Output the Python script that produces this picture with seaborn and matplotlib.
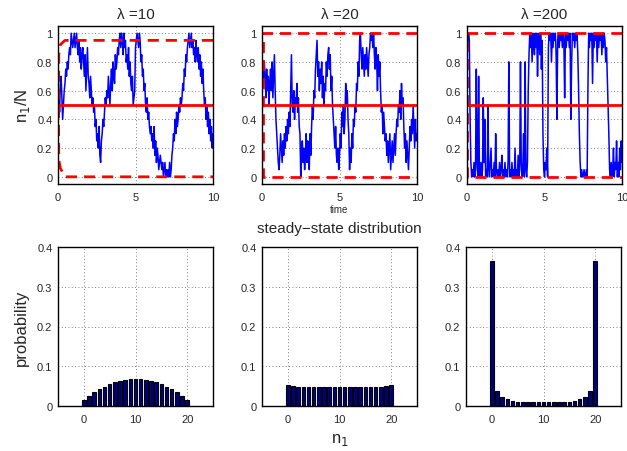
import numpy as np
import pandas as pd
import matplotlib
matplotlib.use("Agg")
import matplotlib.pyplot as plt
import seaborn as sns

# ---------------- data ----------------
lambdas = ["10", "20", "200"]

traj_lam10 = [
    0.5,0.6,0.45,0.65,0.7,0.55,0.4,0.5,0.6,0.65,0.75,0.7,0.8,0.75,0.85,0.9,0.85,1.0,0.95,0.9,
    0.95,1.0,0.9,0.95,1.0,0.9,0.85,0.95,0.8,0.9,0.75,0.85,0.9,0.8,0.7,0.85,0.6,0.75,0.9,0.7,
    0.65,0.55,0.7,0.6,0.5,0.55,0.45,0.5,0.35,0.4,0.25,0.3,0.2,0.35,0.15,0.1,0.25,0.3,0.4,0.35,
    0.45,0.55,0.5,0.6,0.55,0.7,0.6,0.5,0.65,0.75,0.6,0.8,0.7,0.65,0.85,0.75,0.8,0.9,0.85,0.95,
    1.0,0.9,1.0,0.95,0.85,1.0,0.9,0.95,0.8,0.85,0.75,0.9,0.7,0.8,0.65,0.6,0.7,0.5,0.55,0.6,
    0.9,0.95,1.0,0.95,0.9,1.0,0.95,0.8,0.85,0.7,0.75,0.6,0.65,0.5,0.45,0.55,0.4,0.45,0.35,0.3,
    0.35,0.25,0.3,0.2,0.35,0.15,0.25,0.1,0.2,0.15,0.05,0.1,0.15,0.1,0.05,0.1,0.0,0.05,0.1,0.0,
    0.05,0.0,0.05,0.0,0.1,0.0,0.05,0.15,0.2,0.3,0.25,0.4,0.3,0.45,0.35,0.4,0.5,0.45,0.55,0.5,
    0.55,0.65,0.6,0.75,0.7,0.85,0.8,0.9,0.95,1.0,0.9,0.95,1.0,0.9,0.95,0.85,0.9,0.8,0.95,0.85,
    0.8,0.9,0.75,0.85,0.7,0.8,0.65,0.75,0.6,0.5,0.55,0.4,0.5,0.35,0.45,0.3,0.4,0.25,0.35,0.2,
    0.3,
]
traj_lam20 = [
    0.6,0.75,0.65,0.8,0.7,0.55,0.75,0.6,0.7,0.5,0.65,0.75,0.6,0.8,0.55,0.7,0.85,0.6,0.4,0.3,
    0.2,0.1,0.05,0.15,0.3,0.2,0.1,0.25,0.15,0.3,0.2,0.35,0.25,0.4,0.3,0.45,0.35,0.6,0.85,0.5,
    0.45,0.6,0.4,0.55,0.5,0.65,0.45,0.55,0.35,0.3,0.0,0.15,0.25,0.1,0.2,0.05,0.15,0.3,0.1,0.25,
    0.2,0.05,0.3,0.15,0.35,0.5,0.4,0.6,0.55,0.75,0.85,0.95,0.7,0.8,0.6,0.75,0.65,0.8,0.55,0.7,
    0.5,0.65,0.6,0.8,0.7,0.85,0.9,0.75,0.85,0.6,0.7,0.5,0.4,0.3,0.2,0.35,0.15,0.1,0.2,0.05,
    0.15,0.3,0.2,0.45,0.35,0.5,0.3,0.4,0.65,0.5,0.6,0.4,0.3,0.05,0.2,0.1,0.3,0.2,0.4,0.35,
    0.5,0.45,0.65,0.6,0.8,0.7,0.95,1.0,0.85,0.75,0.9,0.8,0.7,0.85,0.75,0.9,0.8,0.7,0.85,0.9,
    1.0,0.95,1.0,0.9,1.0,0.85,0.75,0.9,0.8,0.6,0.85,0.7,0.8,0.6,0.45,0.5,0.3,0.45,0.35,0.25,
    0.3,0.15,0.25,0.1,0.2,0.3,0.05,0.15,0.25,0.1,0.2,0.3,0.15,0.3,0.4,0.35,0.5,0.45,0.6,0.4,
    0.65,0.5,0.55,0.35,0.2,0.3,0.1,0.25,0.15,0.05,0.2,0.35,0.25,0.4,0.3,0.5,0.35,0.2,0.4,0.25,
    0.3,
]
traj_lam200 = [
    1.0,0.9,1.0,0.95,0.4,0.1,0.0,0.05,0.0,0.1,0.0,0.05,0.75,0.1,0.0,0.7,0.05,0.0,0.1,0.0,
    0.05,0.55,0.1,0.4,0.0,0.05,0.0,0.5,0.05,0.0,0.1,0.2,0.0,0.05,0.0,0.1,0.0,0.3,0.05,0.0,
    0.05,0.0,0.1,0.0,0.05,0.15,0.0,0.05,0.0,0.1,0.0,0.05,0.0,0.1,0.8,0.0,0.05,0.0,0.1,0.0,
    0.05,0.0,0.2,0.0,0.05,0.0,0.15,0.0,0.05,0.8,0.1,0.0,0.05,0.3,0.0,0.8,0.05,0.0,0.1,0.6,
    0.85,1.0,0.9,1.0,0.8,1.0,0.95,0.85,1.0,0.9,1.0,0.7,0.95,1.0,0.85,1.0,0.75,0.95,0.3,0.05,
    0.0,0.1,0.05,0.2,0.0,0.9,1.0,0.95,1.0,0.8,1.0,0.9,1.0,0.95,1.0,0.85,0.4,0.95,1.0,0.9,
    1.0,0.95,1.0,0.9,1.0,0.95,0.55,1.0,0.9,1.0,0.95,1.0,0.9,1.0,0.4,0.8,1.0,0.95,1.0,0.9,
    1.0,0.95,1.0,0.85,0.6,0.3,0.1,0.0,0.05,0.0,0.0,0.05,0.0,0.0,0.05,0.0,0.6,1.0,0.9,1.0,
    0.95,1.0,0.65,1.0,0.9,1.0,0.95,1.0,0.8,1.0,0.9,1.0,0.95,1.0,0.85,1.0,0.9,1.0,0.95,0.8,
    0.9,0.7,0.5,0.3,0.05,0.0,0.1,0.0,0.05,0.2,0.0,0.1,0.05,0.25,0.0,0.1,0.0,0.2,0.05,0.25,
    0.1,
]
time = np.linspace(0, 10, len(traj_lam10))

# red dashed boundary curves (time, n1/N)
bound_t_lam10 = [10, 0.45, 0.15, 0.05, 0.04, 0.04, 0.05, 0.15, 0.45, 10]
bound_y_lam10 = [0.95, 0.95, 0.92, 0.85, 0.6, 0.35, 0.12, 0.06, 0.0, 0.0]
bound_t_lam20 = [10, 0.06, 0.06, 10]
bound_y_lam20 = [1.0, 1.0, 0.0, 0.0]
bound_t_lam200 = [10, 0.02, 0.02, 10]
bound_y_lam200 = [1.0, 1.0, 0.0, 0.0]
mean_level = 0.5

n1 = list(range(21))
prob_lam10 = [0.014, 0.024, 0.034, 0.042, 0.049, 0.055, 0.060, 0.063, 0.066, 0.067, 0.068,
              0.067, 0.066, 0.063, 0.060, 0.055, 0.049, 0.042, 0.034, 0.024, 0.014]
prob_lam20 = [0.053, 0.050, 0.049, 0.048, 0.048, 0.047, 0.047, 0.047, 0.047, 0.047, 0.047,
              0.047, 0.047, 0.047, 0.047, 0.047, 0.048, 0.048, 0.049, 0.050, 0.053]
prob_lam200 = [0.366, 0.037, 0.023, 0.017, 0.013, 0.011, 0.010, 0.009, 0.009, 0.009, 0.009,
               0.009, 0.009, 0.009, 0.009, 0.011, 0.013, 0.017, 0.023, 0.037, 0.366]

trajs = [traj_lam10, traj_lam20, traj_lam200]
bounds = [(bound_t_lam10, bound_y_lam10), (bound_t_lam20, bound_y_lam20),
          (bound_t_lam200, bound_y_lam200)]
probs = [prob_lam10, prob_lam20, prob_lam200]

# ---------------- style ----------------
sns.set_style("white")
plt.rcParams["font.family"] = ["Liberation Sans", "DejaVu Sans"]
plt.rcParams["axes.linewidth"] = 1.0

fig = plt.figure(figsize=(6.27, 4.52), dpi=100)
W, H = 627, 452
lefts = [58, 262, 467]
aw = 155

grid_kw = dict(color="#555555", linestyle=(0, (1, 3)), linewidth=0.6)

for i in range(3):
    # ---- top: trajectories
    ax = fig.add_axes([lefts[i] / W, 1 - 185 / H, aw / W, 158 / H])
    ax.set_axisbelow(True)
    ax.grid(True, **grid_kw)
    sns.lineplot(x=time, y=trajs[i], ax=ax, color="#0000ff", linewidth=1.1,
                 estimator=None, sort=False)
    sns.lineplot(x=[0, 10], y=[mean_level, mean_level], ax=ax, color="#ff0000",
                 linewidth=2.0, estimator=None)
    bt, by = bounds[i]
    sns.lineplot(x=bt, y=by, ax=ax, color="#ff0000", linewidth=2.0,
                 linestyle=(0, (4, 2.5)), estimator=None, sort=False)
    ax.set_xlim(0, 10)
    ax.set_ylim(-0.05, 1.05)
    ax.set_xticks([0, 5, 10])
    ax.set_yticks([0, 0.2, 0.4, 0.6, 0.8, 1])
    ax.set_yticklabels(["0", "0.2", "0.4", "0.6", "0.8", "1"])
    ax.tick_params(labelsize=8, length=3, direction="in", pad=4)
    ax.tick_params(axis="x", pad=6)
    ax.set_title("\u03bb =" + lambdas[i], fontsize=11, pad=6)
    for s in ax.spines.values():
        s.set_color("black")
    if i == 0:
        ax.set_ylabel("n$_1$/N", fontsize=12, labelpad=4)
    if i == 1:
        ax.set_xlabel("time", fontsize=7, labelpad=1)

    # ---- bottom: distributions
    bx = fig.add_axes([lefts[i] / W - (1 / W if i == 2 else 0), 1 - 407 / H, aw / W, 159 / H])
    bx.set_axisbelow(True)
    bx.grid(True, **grid_kw)
    df = pd.DataFrame({"n1": n1, "p": probs[i]})
    sns.barplot(data=df, x="n1", y="p", ax=bx, native_scale=True, width=0.7,
                color="#000080", saturation=1, edgecolor="black", linewidth=0.8)
    bx.set_xlim(-5, 25)
    bx.set_ylim(0, 0.4)
    bx.set_xticks([0, 10, 20])
    bx.set_xticklabels(["0", "10", "20"])
    bx.set_yticks([0, 0.1, 0.2, 0.3, 0.4])
    bx.set_yticklabels(["0", "0.1", "0.2", "0.3", "0.4"])
    bx.tick_params(labelsize=8, length=3, direction="in", pad=4)
    bx.tick_params(axis="x", pad=6)
    bx.set_xlabel("")
    bx.set_ylabel("")
    for s in bx.spines.values():
        s.set_color("black")
    if i == 0:
        bx.set_ylabel("probability", fontsize=12, labelpad=6)
    if i == 1:
        bx.set_title("steady\u2212state distribution", fontsize=11, pad=11)
        bx.set_xlabel("n$_1$", fontsize=12, labelpad=5)

fig.savefig("out.png", dpi=100)
